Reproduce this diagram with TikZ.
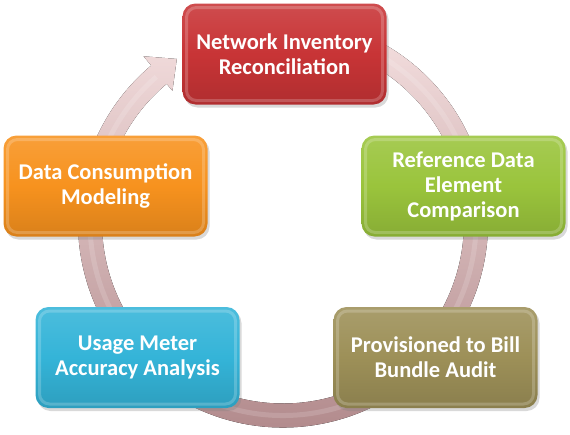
\documentclass[tikz,border=0pt]{standalone}
\usepackage{fontspec}
\setmainfont{Carlito}
\usetikzlibrary{shadows}
\definecolor{ringtop}{RGB}{248,228,228}
\definecolor{ringbot}{RGB}{176,136,138}
\definecolor{netred}{RGB}{200,52,54}
\definecolor{refgreen}{RGB}{154,196,60}
\definecolor{provolive}{RGB}{157,144,88}
\definecolor{usageblue}{RGB}{52,180,216}
\definecolor{dataorange}{RGB}{247,146,30}
\begin{document}
\begin{tikzpicture}[x=1pt, y=1pt,
    stage/.style={rectangle, rounded corners=13pt, minimum width=204pt, minimum height=101pt,
        inner sep=0pt, align=center, text=white, font=\fontsize{22.5}{25}\selectfont\bfseries,
        drop shadow={opacity=0.3, shadow xshift=2pt, shadow yshift=-3pt},
        path picture={\draw[white, opacity=0.2, line width=3pt, rounded corners=10pt]
            ([shift={(4pt,-4pt)}]path picture bounding box.north west) rectangle
            ([shift={(-4pt,4pt)}]path picture bounding box.south east);}},
    tint/.style={top color=#1!88!white, bottom color=#1!88!black, middle color=#1},
    ring/.style={top color=ringtop, bottom color=ringbot, draw=none}
]
    \useasboundingbox (0,0) rectangle (570,-434);

    % Cycle arrow
    \begin{scope}[shift={(283,-222.5)}]
        \fill[ring] (100:205) arc[start angle=100, end angle=-230, radius=205]
            -- (-230:217) -- (-237:195) -- (-230:172) -- (-230:181)
            arc[start angle=-230, end angle=100, radius=181] -- cycle;
        \draw[white, opacity=0.15, line width=5pt] (100:193) arc[start angle=100, end angle=-229, radius=193];
    \end{scope}

    % Stages
    \node[stage, tint=netred] (netinv) at (284.5,-54) {Network Inventory\\Reconciliation};
    \node[stage, tint=refgreen] (refdata) at (463.5,-186) {Reference Data\\Element\\Comparison};
    \node[stage, tint=provolive] (provbill) at (435.5,-357.5) {Provisioned to Bill\\Bundle Audit};
    \node[stage, tint=usageblue] (usage) at (137.5,-357.5) {Usage Meter\\Accuracy Analysis};
    \node[stage, tint=dataorange] (dataconsump) at (105.5,-186) {Data Consumption\\Modeling};

\end{tikzpicture}
\end{document}
